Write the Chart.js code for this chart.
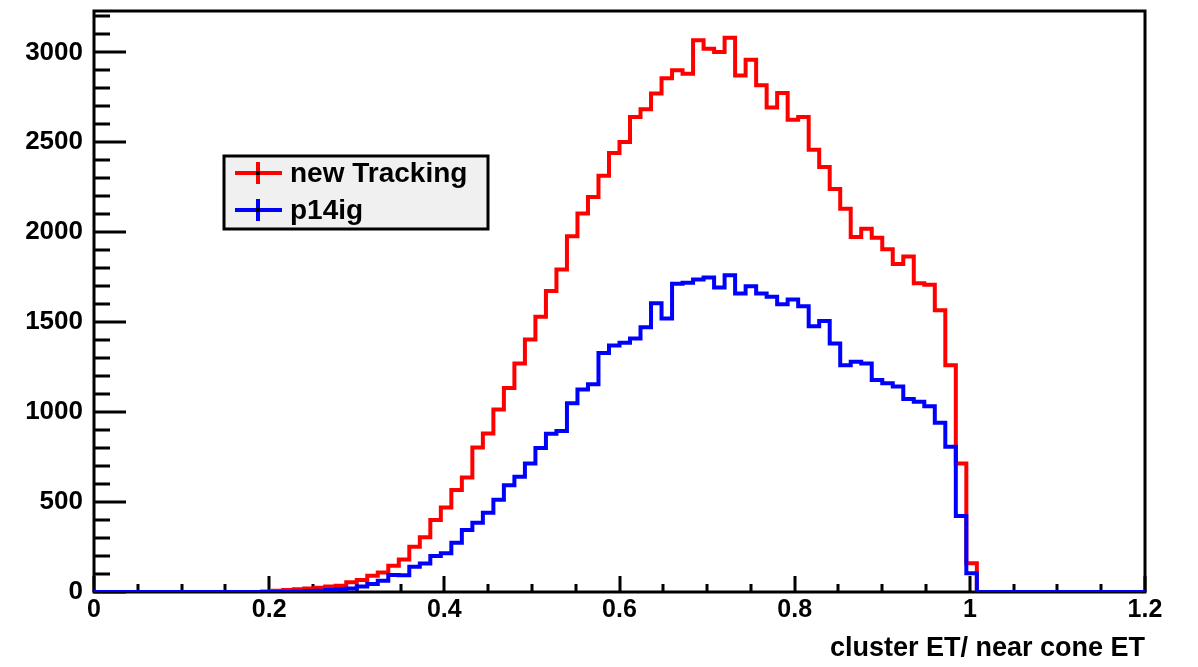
<!DOCTYPE html>
<html>
<head>
<meta charset="utf-8">
<script src="https://cdn.jsdelivr.net/npm/chart.js@4.4.1/dist/chart.umd.min.js"></script>
<style>
  html, body { margin: 0; padding: 0; background: #fff; }
  #wrap { width: 1198px; height: 667px; position: relative; }
</style>
</head>
<body>
<div id="wrap"><canvas id="myChart"></canvas></div>
<script>
// histogram: 100 bins of 0.012 from 0 to 1.2
const binWidth = 0.012;

const newTracking = [
  0, 0, 0, 0, 0, 0, 0, 0, 0, 0,
  0, 0, 0, 0, 0, 0, 3, 7, 11, 15,
  19, 24, 30, 35, 54, 67, 91, 109, 146, 181,
  252, 304, 400, 470, 567, 637, 804, 881, 1015, 1134,
  1270, 1404, 1530, 1674, 1793, 1978, 2104, 2196, 2314, 2440,
  2502, 2641, 2684, 2772, 2856, 2900, 2881, 3067, 3020, 3002,
  3081, 2872, 2959, 2817, 2693, 2774, 2626, 2641, 2458, 2363,
  2240, 2131, 1974, 2020, 1970, 1905, 1824, 1865, 1716, 1708,
  1567, 1261, 715, 160, 0, 0, 0, 0, 0, 0,
  0, 0, 0, 0, 0, 0, 0, 0, 0, 0
];

const p14ig = [
  0, 0, 0, 0, 0, 0, 0, 0, 0, 0,
  0, 0, 0, 0, 0, 0, 0, 0, 0, 2,
  5, 7, 11, 15, 20, 30, 44, 63, 94, 93,
  141, 159, 200, 215, 274, 344, 385, 440, 513, 594,
  641, 715, 800, 880, 895, 1050, 1126, 1155, 1328, 1370,
  1385, 1409, 1472, 1605, 1520, 1713, 1719, 1737, 1748, 1693,
  1761, 1659, 1700, 1659, 1641, 1600, 1626, 1589, 1478, 1506,
  1381, 1261, 1280, 1270, 1178, 1160, 1142, 1073, 1057, 1033,
  941, 807, 422, 104, 0, 0, 0, 0, 0, 0,
  0, 0, 0, 0, 0, 0, 0, 0, 0, 0
];

const seriesNames = ['new Tracking', 'p14ig'];
const seriesColors = ['#ff0000', '#0000ff'];

const xTicks = [0, 0.2, 0.4, 0.6, 0.8, 1, 1.2];
const yTicks = [0, 500, 1000, 1500, 2000, 2500, 3000];
const xMinorStep = 0.05;
const yMinorStep = 100;
const xMax = 1.2;
const yMax = 3230;
const xTitle = 'cluster ET/ near cone ET';

// bin left edges + closing edge, drawn with stepped lines
function toSteps(counts) {
  const pts = counts.map((v, i) => ({ x: i * binWidth, y: v }));
  pts.push({ x: counts.length * binWidth, y: counts[counts.length - 1] });
  return pts;
}

const FONT = '"Liberation Sans", Arial, Helvetica, sans-serif';

// ROOT-like frame with inner ticks
const frameTicks = {
  id: 'frameTicks',
  beforeDatasetsDraw(chart) {
    const { ctx, chartArea: a, scales: { x, y } } = chart;
    ctx.save();
    ctx.strokeStyle = '#000';
    ctx.lineWidth = 3;
    ctx.beginPath();
    for (let v = 0; v <= yMax + 1e-9; v += yMinorStep) {
      const py = Math.round(y.getPixelForValue(v));
      const len = (v % 500 === 0) ? 32 : 16;
      ctx.moveTo(a.left, py);
      ctx.lineTo(a.left + len, py);
    }
    for (let i = 0; i * xMinorStep <= xMax + 1e-9; i++) {
      const v = i * xMinorStep;
      const px = Math.round(x.getPixelForValue(v));
      const len = (i % 4 === 0) ? 16 : 8;
      ctx.moveTo(px, a.bottom);
      ctx.lineTo(px, a.bottom - len);
    }
    ctx.stroke();
    ctx.strokeRect(a.left, a.top, a.right - a.left, a.bottom - a.top);
    ctx.restore();
  }
};

// boxed legend inside the frame
const boxLegend = {
  id: 'boxLegend',
  afterDatasetsDraw(chart) {
    const { ctx } = chart;
    const bx = 224, by = 156, bw = 264, bh = 73;
    ctx.save();
    ctx.fillStyle = '#f0f0f0';
    ctx.fillRect(bx, by, bw, bh);
    ctx.strokeStyle = '#000';
    ctx.lineWidth = 3;
    ctx.strokeRect(bx, by, bw, bh);
    ctx.font = 'bold 28px ' + FONT;
    ctx.textBaseline = 'middle';
    ctx.textAlign = 'left';
    seriesNames.forEach((name, i) => {
      const cy = 173 + i * 37;
      ctx.strokeStyle = seriesColors[i];
      ctx.lineWidth = 4;
      ctx.beginPath();
      ctx.moveTo(235, cy);
      ctx.lineTo(282, cy);
      ctx.moveTo(258, cy - 11);
      ctx.lineTo(258, cy + 11);
      ctx.stroke();
      ctx.fillStyle = '#000';
      ctx.fillRect(256, cy - 2, 4, 4);
      ctx.fillText(name, 290, cy + 1);
    });
    ctx.restore();
  }
};

const ctx = document.getElementById('myChart');
const myChart = new Chart(ctx, {
  type: 'line',
  data: {
    datasets: [
      {
        label: seriesNames[0],
        data: toSteps(newTracking),
        borderColor: seriesColors[0],
        borderWidth: 4,
        stepped: true,
        pointRadius: 0,
        fill: false,
        order: 1
      },
      {
        label: seriesNames[1],
        data: toSteps(p14ig),
        borderColor: seriesColors[1],
        borderWidth: 4,
        stepped: true,
        pointRadius: 0,
        fill: false,
        order: 0
      }
    ]
  },
  options: {
    responsive: true,
    maintainAspectRatio: false,
    animation: false,
    devicePixelRatio: 1,
    layout: { padding: { left: 0, top: 11, right: 53, bottom: 0 } },
    plugins: {
      legend: { display: false },
      tooltip: { enabled: false }
    },
    scales: {
      x: {
        type: 'linear',
        min: 0,
        max: xMax,
        grid: { display: false, drawTicks: false },
        border: { display: false },
        afterBuildTicks: s => { s.ticks = xTicks.map(v => ({ value: v })); },
        afterFit: s => { s.height = 75; s.paddingLeft = 0; s.paddingRight = 0; },
        ticks: {
          padding: 3,
          maxRotation: 0,
          autoSkip: false,
          color: '#000',
          font: { family: FONT, size: 25, weight: 'bold' },
          callback: v => String(v)
        },
        title: {
          display: true,
          text: xTitle,
          align: 'end',
          color: '#000',
          padding: { top: 0, bottom: 2 },
          font: { family: FONT, size: 27, weight: 'bold' }
        }
      },
      y: {
        min: 0,
        max: yMax,
        grid: { display: false, drawTicks: false },
        border: { display: false },
        afterBuildTicks: s => { s.ticks = yTicks.map(v => ({ value: v })); },
        afterFit: s => { s.width = 94; s.paddingTop = 0; s.paddingBottom = 0; },
        ticks: {
          padding: 11,
          color: '#000',
          font: { family: FONT, size: 26, weight: 'bold' },
          callback: v => String(v)
        }
      }
    }
  },
  plugins: [frameTicks, boxLegend]
});
</script>
</body>
</html>
